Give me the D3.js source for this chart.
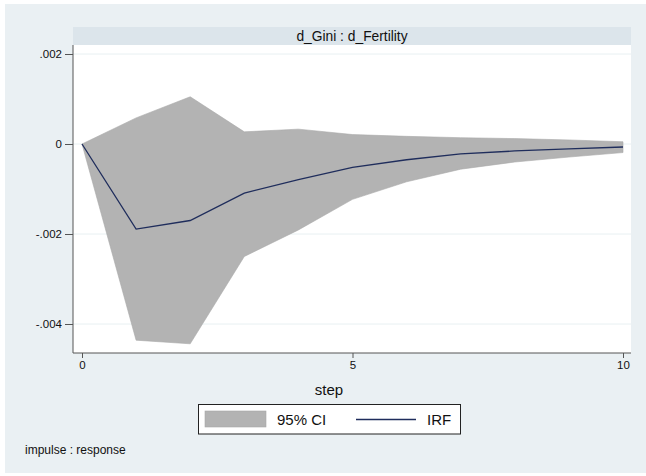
<!DOCTYPE html>
<html>
<head>
<meta charset="utf-8">
<script src="https://cdn.jsdelivr.net/npm/d3@7"></script>
<style>
html,body{margin:0;padding:0;background:#fff;}
svg{display:block;font-family:"Liberation Sans",Arial,Helvetica,sans-serif;}
</style>
</head>
<body>
<svg id="chart" width="646" height="476"></svg>
<script>
const steps = [0,1,2,3,4,5,6,7,8,9,10];
const irf   = [0,-0.00189,-0.00170,-0.00109,-0.00079,-0.00052,-0.00035,-0.00022,-0.000155,-0.00011,-0.000067];
const upper = [0,0.00058,0.00105,0.00027,0.00033,0.00021,0.00017,0.00014,0.00012,0.00009,0.00005];
const lower = [0,-0.00436,-0.00444,-0.00250,-0.00191,-0.00123,-0.00084,-0.00056,-0.00040,-0.00029,-0.00019];
const xTicks = [0,5,10];
const yTicks = [0.002,0,-0.002,-0.004];
const yTickLabels = [".002","0","-.002","-.004"];
const panelTitle = "d_Gini : d_Fertility";
const xTitle = "step";
const legendLabels = ["95% CI","IRF"];
const note = "impulse : response";

const svg = d3.select("#chart");
const bg = "#eaf0f3";
svg.append("rect").attr("x",5).attr("y",4).attr("width",641).attr("height",469).attr("fill",bg);

const plot = {left:73, right:631, top:45, bottom:353};
const x = d3.scaleLinear().domain([0,10]).range([82,623]);
const y = d3.scaleLinear().domain([0.002,-0.004]).range([54,324]);

// title bar
svg.append("rect").attr("x",plot.left).attr("y",27).attr("width",plot.right-plot.left).attr("height",18).attr("fill","#dce5eb");
svg.append("text").attr("x",(plot.left+plot.right)/2).attr("y",41).attr("text-anchor","middle")
  .attr("font-size",13.8).attr("fill","#111").text(panelTitle);

// plot area
svg.append("rect").attr("x",plot.left).attr("y",plot.top).attr("width",plot.right-plot.left).attr("height",plot.bottom-plot.top).attr("fill","#fff");

// gridlines
svg.append("g").selectAll("line").data(yTicks).join("line")
  .attr("x1",plot.left).attr("x2",plot.right)
  .attr("y1",d=>y(d)).attr("y2",d=>y(d))
  .attr("stroke","#e8f0f2").attr("stroke-width",1);

const data = steps.map((s,i)=>({s, irf:irf[i], up:upper[i], lo:lower[i]}));

svg.append("path").datum(data)
  .attr("d", d3.area().x(d=>x(d.s)).y0(d=>y(d.lo)).y1(d=>y(d.up)))
  .attr("fill","#b3b3b3").attr("stroke","#a9a9a9").attr("stroke-width",0.6);

svg.append("path").datum(data)
  .attr("d", d3.line().x(d=>x(d.s)).y(d=>y(d.irf)))
  .attr("fill","none").attr("stroke","#1f2d5c").attr("stroke-width",1.3);

// axes
const yAxis = d3.axisLeft(y).tickValues(yTicks).tickSize(8).tickPadding(3)
  .tickFormat((d,i)=>yTickLabels[i]);
const gy = svg.append("g").attr("transform",`translate(${plot.left},0)`).call(yAxis);
gy.select(".domain").attr("d",`M0,${plot.top}V${plot.bottom}`).attr("stroke","#555");
gy.selectAll(".tick line").attr("stroke","#555");
gy.selectAll(".tick text").attr("font-size",11.5).attr("fill","#111").attr("font-family","Liberation Sans,Arial,sans-serif");

const xAxis = d3.axisBottom(x).tickValues(xTicks).tickSize(5).tickPadding(3).tickFormat(d3.format("d"));
const gx = svg.append("g").attr("transform",`translate(0,${plot.bottom})`).call(xAxis);
gx.select(".domain").attr("d",`M${plot.left},0H${plot.right}`).attr("stroke","#555");
gx.selectAll(".tick line").attr("stroke","#555");
gx.selectAll(".tick text").attr("font-size",11.5).attr("fill","#111").attr("font-family","Liberation Sans,Arial,sans-serif");

svg.append("text").attr("x",329).attr("y",395).attr("text-anchor","middle")
  .attr("font-size",15).attr("fill","#111").text(xTitle);

// legend
const lg = svg.append("g");
lg.append("rect").attr("x",198.5).attr("y",404.5).attr("width",262).attr("height",29.5)
  .attr("fill","#fff").attr("stroke","#222").attr("stroke-width",1);
lg.append("rect").attr("x",205).attr("y",411).attr("width",61).attr("height",16)
  .attr("fill","#b3b3b3").attr("stroke","#a9a9a9").attr("stroke-width",0.6);
lg.append("text").attr("x",277).attr("y",425).attr("font-size",15).attr("fill","#111").text(legendLabels[0]);
lg.append("line").attr("x1",356).attr("x2",416).attr("y1",419.5).attr("y2",419.5)
  .attr("stroke","#1f2d5c").attr("stroke-width",1.3);
lg.append("text").attr("x",427).attr("y",425).attr("font-size",15).attr("fill","#111").text(legendLabels[1]);

svg.append("text").attr("x",25).attr("y",454).attr("font-size",12).attr("fill","#111").text(note);
</script>
</body>
</html>
